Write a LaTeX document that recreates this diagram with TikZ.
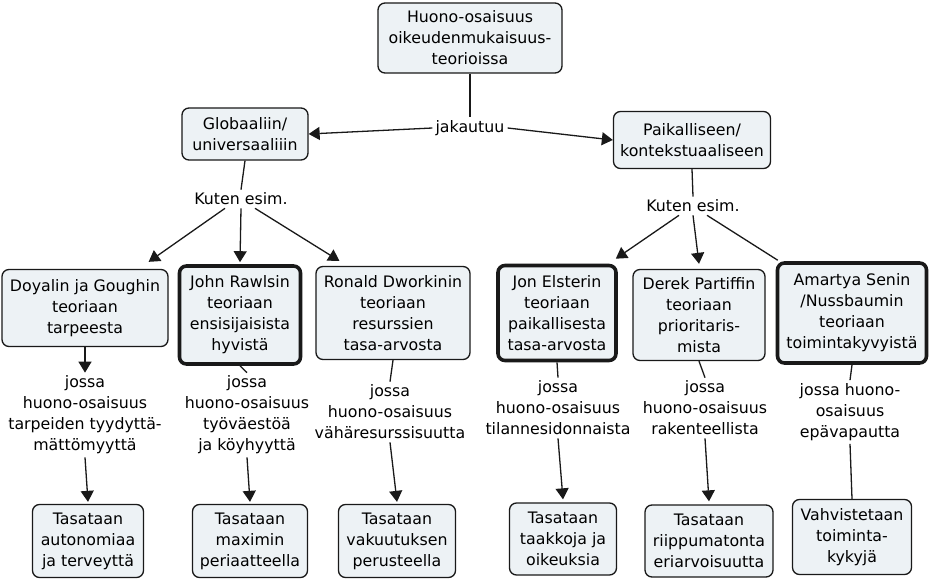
\documentclass[tikz,border=0pt]{standalone}
\usepackage{fontspec}
\setmainfont{DejaVu Sans}
\usetikzlibrary{arrows.meta}
\definecolor{boxfill}{RGB}{237,242,245}
\definecolor{edgecol}{RGB}{25,25,25}
\begin{document}
\begin{tikzpicture}[x=1pt,y=1pt,
  txt/.style={font=\fontsize{15.8}{21}\selectfont, align=center, text=black},
  cbox/.style={txt, draw=edgecol, fill=boxfill, rounded corners=7pt, line width=1.3pt, inner sep=1pt},
  tbox/.style={cbox, line width=3.6pt},
  lbl/.style={txt, inner sep=3pt},
  ln/.style={draw=edgecol, line width=1.3pt},
  arr/.style={ln, -{Triangle[length=11pt,width=13pt]}}
]
\useasboundingbox (0,0) rectangle (933,582);
\fill[white] (0,0) rectangle (933,582);

% top level
\node[cbox, minimum width=184pt, minimum height=70pt] (top) at (470,544) {Huono-osaisuus\\oikeudenmukaisuus-\\teorioissa};
\node[lbl] (jak) at (470,454) {jakautuu};
\node[cbox, minimum width=126pt, minimum height=52pt] (glob) at (245,448) {Globaaliin/\\universaaliiin};
\node[cbox, minimum width=157pt, minimum height=57pt] (paik) at (692,442) {Paikalliseen/\\kontekstuaaliseen};
\node[lbl] (kl) at (241,383) {Kuten esim.};
\node[lbl] (kr) at (693,376) {Kuten esim.};

% second row
\node[cbox, minimum width=166pt, minimum height=77pt] (doy) at (85,274) {Doyalin ja Goughin\\teoriaan\\tarpeesta};
\node[tbox, minimum width=121pt, minimum height=98pt] (rawls) at (240,267) {John Rawlsin\\teoriaan\\ensisijaisista\\hyvistä};
\node[cbox, minimum width=154pt, minimum height=93pt] (ron) at (393,269) {Ronald Dworkinin\\teoriaan\\resurssien\\tasa-arvosta};
\node[tbox, minimum width=118pt, minimum height=95pt] (els) at (557,269) {Jon Elsterin\\teoriaan\\paikallisesta\\tasa-arvosta};
\node[cbox, minimum width=132pt, minimum height=91pt] (der) at (699,267) {Derek Partiffin\\teoriaan\\prioritaris-\\mista};
\node[tbox, minimum width=149pt, minimum height=100pt] (ama) at (852,269) {Amartya Senin\\/Nussbaumin\\teoriaan\\toimintakyvyistä};

% labels
\node[lbl] (ld) at (85,167) {jossa\\huono-osaisuus\\tarpeiden tyydyttä-\\mättömyyttä};
\node[lbl] (lr) at (247,167) {jossa\\huono-osaisuus\\työväestöä\\ja köyhyyttä};
\node[lbl] (lron) at (390,170) {jossa\\huono-osaisuus\\vähäresurssisuutta};
\node[lbl] (lel) at (558,174) {jossa\\huono-osaisuus\\tilannesidonnaista};
\node[lbl] (lde) at (705,174) {jossa\\huono-osaisuus\\rakenteellista};
\node[lbl] (lam) at (850,170) {jossa huono-\\osaisuus\\epävapautta};

% bottom row
\node[cbox, minimum width=111pt, minimum height=73pt] (td) at (88,41) {Tasataan\\autonomiaa\\ja terveyttä};
\node[cbox, minimum width=115pt, minimum height=73pt] (tr) at (250,41) {Tasataan\\maximin\\periaatteella};
\node[cbox, minimum width=117pt, minimum height=73pt] (tv) at (397,41) {Tasataan\\vakuutuksen\\perusteella};
\node[cbox, minimum width=107pt, minimum height=72pt] (te) at (563,43) {Tasataan\\taakkoja ja\\oikeuksia};
\node[cbox, minimum width=128pt, minimum height=72pt] (tde) at (709,41) {Tasataan\\riippumatonta\\eriarvoisuutta};
\node[cbox, minimum width=119pt, minimum height=75pt] (ta) at (852,45) {Vahvistetaan\\toiminta-\\kykyjä};

% connectors
\draw[ln] (top.south) -- (jak.north);
\draw[arr] (jak.west) -- (glob.east);
\draw[arr] (jak.east) -- (paik.west);
\draw[ln] (glob.south) -- (kl.north);
\draw[ln] (paik.south) -- (kr.north);

\draw[arr] ([xshift=-16pt]kl.south) -- ([xshift=-20pt,yshift=7pt]doy.north east);
\draw[arr] (kl.south) -- ([yshift=2pt]rawls.north);
\draw[arr] ([xshift=14pt]kl.south) -- ([xshift=24pt,yshift=5pt]ron.north west);

\draw[arr] ([xshift=-14pt]kr.south) -- ([xshift=-2pt,yshift=5pt]els.north east);
\draw[arr] (kr.south) -- ([yshift=5pt]der.north);
\draw[ln] ([xshift=14pt]kr.south) -- ([xshift=2pt,yshift=1pt]ama.north west);

\draw[arr] (doy.south) -- (ld.north);
\draw[ln] (rawls.south) -- (lr.north);
\draw[ln] (ron.south) -- (lron.north);
\draw[ln] (els.south) -- (lel.north);
\draw[ln] (der.south) -- (lde.north);
\draw[ln] (ama.south) -- (lam.north);

\draw[arr] (ld.south) -- ([yshift=2pt]td.north);
\draw[arr] (lr.south) -- ([yshift=2pt]tr.north);
\draw[arr] (lron.south) -- ([yshift=2pt]tv.north);
\draw[arr] (lel.south) -- ([yshift=3pt]te.north);
\draw[arr] (lde.south) -- ([yshift=3pt]tde.north);
\draw[ln] (lam.south) -- (ta.north);
\end{tikzpicture}
\end{document}
